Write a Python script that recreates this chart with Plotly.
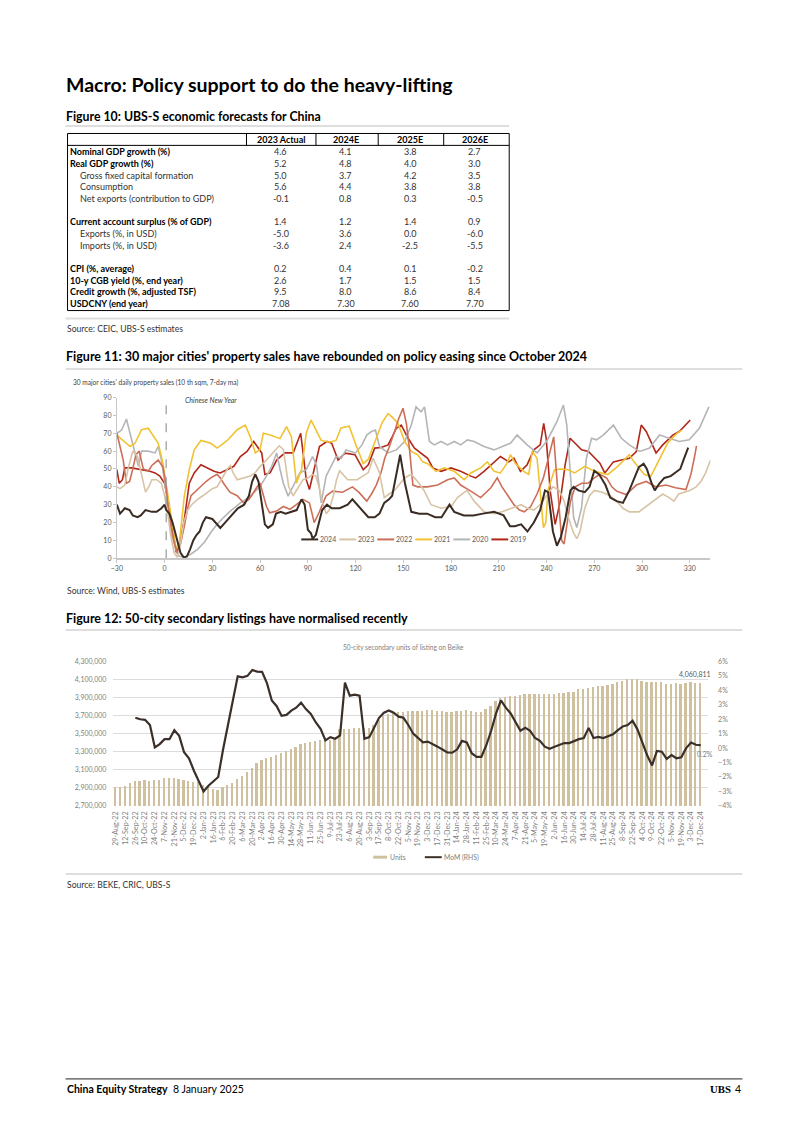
import plotly.graph_objects as go

# ======================= DATA =======================
# ---- Figure 10 table ----
table_header = ["2023 Actual", "2024E", "2025E", "2026E"]
table_labels = ["Nominal GDP growth (%)", "Real GDP growth (%)", "Gross fixed capital formation",
                "Consumption", "Net exports (contribution to GDP)", "",
                "Current account surplus (% of GDP)", "Exports (%, in USD)", "Imports (%, in USD)", "",
                "CPI (%, average)", "10-y CGB yield (%, end year)", "Credit growth (%, adjusted TSF)",
                "USDCNY (end year)"]
table_bold = [True, True, False, False, False, False, True, False, False, False, True, True, True, True]
col_2023 = ["4.6", "5.2", "5.0", "5.6", "-0.1", "", "1.4", "-5.0", "-3.6", "", "0.2", "2.6", "9.5", "7.08"]
col_2024 = ["4.1", "4.8", "3.7", "4.4", "0.8", "", "1.2", "3.6", "2.4", "", "0.4", "1.7", "8.0", "7.30"]
col_2025 = ["3.8", "4.0", "4.2", "3.8", "0.3", "", "1.4", "0.0", "-2.5", "", "0.1", "1.5", "8.6", "7.60"]
col_2026 = ["2.7", "3.0", "3.5", "3.8", "-0.5", "", "0.9", "-6.0", "-5.5", "", "-0.2", "1.5", "8.4", "7.70"]

# ---- Figure 11: 30 cities daily property sales (days relative to CNY) ----
cny_day = 1
days_2024 = [-30,-28,-25,-22,-20,-17,-15,-12,-8,-5,-2,0,1,3,5,7,8,10,12,14,16,18,20,22,24,26,30,32,35,38,42,46,50,53,55,57,59,61,63,65,68,70,73,76,80,83,86,88,90,92,93,95,97,99,102,105,110,115,118,121,125,128,132,135,138,141,143,145,148,151,155,160,165,170,174,179,182,188,194,200,207,213,217,220,224,228,232,236,239,241,244,246.5,249,252,255,257,260,264,267,270,273,277,280,284,288,292,295,298,301,303,306,308,311,314,318,321,324,326,328,329]
sales_2024 = [30,25,28,27,24,23,24,27,26,26,28,30,27,25,20,13,10,3,0.5,1,5,10,13,15,20,23,22,20,17,20,24,28,30,35,43,47,43,30,19,17,19,25,26,25,26,27,33,30,16,14,11,13,20,27,30,28,28,30,33,30,26,23,23,25,31,33,35,45,58,42,26,25,25,23,23,30,26,24,24,25,26,24,18,18,19,15,20,27,38,37,15,7,12,23,38,40,38,37,40,49,47,41,34,32,31,38,45,51,53,50,42,38,42,45,46,48,50,55,60,62]

days_2023 = [-30,-28,-25,-23,-20,-17,-14,-12,-10,-8,-5,-2,0,2,4,6,8,10,12,14.5,17,20.7,24,27,30,33,36,39.4,41.4,43,45.6,50,53.8,57,60,64,67,70.4,72,74.6,76.6,78,80.8,84,87,90,93,95,97,99,101.5,103.5,106,108,110,115,121,128,131,135,138,141,144.5,150.8,155,159,163,167.4,173.7,180,184,190,194.5,200.7,207,212,218,224,228,232,236,240,244,248,251,254,257,259,261,264,267,270,275,280,284,288,292,298,304,309,313,317,320,323,327,330,334,337,340,343]
sales_2023 = [40,39,41,50,60,57,45,37,40,44,44,42,35,25,12,3,0.5,8,20,27,30,33,35,37,39,40,45,50,52,48,44,45,46,48,51.5,55,58,62,63,61,48,40,35,40,44,45,47,46,40,32,25,27,35,44,49,44,44,48,56,48,34,36,38,45,47,43,38,30,28,29,34,38,32,26,25,26,28,30,28,27,30,35,40,38,32,22,14,11,15,28,35,38,37,35,32,28,26,26,30,33,36,34,32,36,37,38,40,43,48,55]

days_2022 = [-30,-28,-26,-24,-22,-20,-18,-16,-13.4,-10,-8,-4,-1,1,2,4,6,8,10,12.4,14.5,16.6,20,22.8,26,29,33,35,37,41,45.6,49.7,53,56,58,60,62,64,66,70.4,74.6,78.7,82.8,87,91,94,97,101.5,105.6,111.8,118,122,127,130,133,136,138.3,141,144.5,147,149.8,152,154,156,159,165,171.6,177.8,182,186,192.4,198.6,205,209,212,215,219.5,223,226,230,234,238,241,243,244.5,246,248,249.5,251,253,255,258,262,266,270,273.5,277.7,281,284,290,296.4,302.6,308.8,315,321,327.6,330.7,332.8,334.2]
sales_2022 = [70,62,55,42,43,50,58,60,50,49,52,55,51,40,29,18,9,3,8,18,28,35,38,40,43,45,47,45,42,37,35,31,33,37,40,42,35,29,25.5,26.5,29,27.4,30,33,31,20,25.5,35,37.6,37,40,37,32,36,41,48,56,62,71,78,84,75,60,41,40,40,41,44,45,41,37.6,34,39.5,45,40,35.7,30,27,26,29,36,45,55,62,68,50,25,10,8,20,32,40,42,42,45,47,45,40,37.6,35.7,41,43,40,41,39.5,38.5,47,56,63]

days_2021 = [-30,-26,-21.7,-18.6,-14.5,-10.3,-7,-4,-1,2,5,7.3,9.3,12.4,15.5,18.6,22.8,29,33,39.4,45.6,50.7,53.8,57,60,62,66.3,72.5,76.6,79.7,82.8,86,89,92,95,98.4,103.5,107.7,110.8,116,120,124.8,128,132.5,136.7,140.4,143,146.6,150.8,155,159,162.2,165.3,170.5,175.7,182,188.2,192.4,198.6,202.8,207,211,215,217.3,220.5,225.7,228.8,231,234,236,238,239.5,241,245,249,253.5,257.7,264,270,278.5,284.7,292,295,301.4,305.5,309.7,316,322,325]
sales_2021 = [69,66,62.6,64.4,72,72.8,68,64.4,53,35,16,5,9,35,49.6,60.7,66,64.4,61.7,66,72,74.6,68,59,61,70,69,67,73.7,68,42,49.6,70,77.4,72,66,65,66,73,74,64,53,55.5,66,76,81,79,75.6,65.4,59.8,58,54,53,48.7,50.6,48.7,44,47.8,50.6,54,48.7,47.8,53,58,53,48.7,47,60,56,37.6,17.2,20,38.5,49.6,50,49.6,47.8,51.5,48.7,46.9,51.5,58,54,46.9,45.9,53.3,64.4,70,71.8]

days_2020 = [-30,-27,-24,-21.7,-18.6,-16.5,-14.5,-10.3,-6,-4,-2,1,4,8.3,12.4,16.6,20.7,25,29,33,37,41.4,47.6,54,60,64,67.3,70.4,72.5,74.6,77.6,80.8,85,89,93,95.5,98.4,101.5,107.7,111,114,120,124,127,130,132.5,135,140.4,145.6,150.8,155,158,161.2,163.3,166.4,169.5,173.7,177.8,182,186,190.3,194.5,200.7,207,213,217.3,221.5,227.8,234,240,246.5,250.6,252.7,254.8,257,259,262,265,268.3,271.4,275.6,282,287,292,298.5,304.7,311,317,323.4,329.6,336,342]
sales_2020 = [70,71.8,78,70,59,51.5,60,60,59,62.6,55,36.7,14.4,1.5,0.5,2.4,5,9,14.4,19,22.8,26.5,31,34.8,40.4,46,51.5,59,50,42,34.8,40.4,47.8,49.6,57,52,31,46,57,56,60.7,59,63.5,69,71,71.8,62.6,59,60.7,65.4,74.6,84.8,82,84.8,65.4,63.5,65.4,63.5,65.4,63.5,66.3,65.4,62.6,60.7,62.6,64.4,69,63.5,59,65.4,76.5,85.8,74.6,46.9,22.8,17.2,28.3,56,67.2,66.3,69,74.6,67.2,63.5,59.8,61.7,69,67.2,65.4,66.3,72.8,84.8]

days_2019 = [-30,-28.5,-26.5,-25,-20.7,-14.5,-9.3,-6,-3,0,2,5,7.3,9.3,12.4,15.5,18.6,22.8,27,31,35,39.4,43.5,47.6,51.8,56,58,61,63,66.3,70.4,75.6,80.8,84,85.5,87,89,91,94,97.3,102,105,109,113.4,119.6,124.8,128,132,136,140.4,143,145.6,148.7,153,157,161,165.3,168.5,173.7,180,186,192.4,195.5,200.7,207,211,216.3,219.5,223.6,227.8,232,236,238.2,239.8,242.3,245.4,248.6,251.7,254.8,258,262,266.3,269.4,273.5,276.6,282,287,292,296.4,299.5,302.6,305.7,308.8,313,319.3,323.4,327.6,330.3]
sales_2019 = [49.6,42,44,50.6,50.6,49.6,48.7,47.8,46,42,33,16.3,3.3,7,21.8,42,47.8,52.4,50.6,48.7,47.8,49.6,51.5,57,59.8,65.4,62.6,59,46.9,47.8,55,59,59,66.3,70,59,44,38.5,49.6,62.6,65.4,64.4,55,58.9,58,49.6,52.4,61.7,62,63.5,68,72.8,74.6,67.2,61.7,58.9,56,50.6,48.7,50.6,48.7,46,45,48.7,54,57,54,56,48.7,52.4,60.7,63.5,75.5,67,37.6,19,32,52.4,67.2,64.4,60.7,59.8,57,53.3,47.8,54,55,56,59.8,74.6,71,65.4,59,63.5,69,71,74.6,77.4]

series_names = ["2024", "2023", "2022", "2021", "2020", "2019"]
series_days = [days_2024, days_2023, days_2022, days_2021, days_2020, days_2019]
series_vals = [sales_2024, sales_2023, sales_2022, sales_2021, sales_2020, sales_2019]
series_colors = ["#3a2b23", "#d8c3a5", "#cd6f58", "#f1c232", "#b5b5b7", "#b1281b"]
x_ticks_11 = [-30, 0, 30, 60, 90, 120, 150, 180, 210, 240, 270, 300, 330]

# ---- Figure 12: Beike 50-city secondary listings ----
week_labels = ["29-Aug-22", "12-Sep-22", "26-Sep-22", "10-Oct-22", "24-Oct-22", "7-Nov-22", "21-Nov-22",
               "5-Dec-22", "19-Dec-22", "2-Jan-23", "16-Jan-23", "6-Feb-23", "20-Feb-23", "6-Mar-23",
               "20-Mar-23", "2-Apr-23", "16-Apr-23", "30-Apr-23", "14-May-23", "28-May-23", "11-Jun-23",
               "25-Jun-23", "9-Jul-23", "23-Jul-23", "6-Aug-23", "20-Aug-23", "3-Sep-23", "17-Sep-23",
               "8-Oct-23", "22-Oct-23", "5-Nov-23", "19-Nov-23", "3-Dec-23", "17-Dec-23", "31-Dec-23",
               "14-Jan-24", "28-Jan-24", "11-Feb-24", "25-Feb-24", "10-Mar-24", "24-Mar-24", "7-Apr-24",
               "21-Apr-24", "5-May-24", "19-May-24", "2-Jun-24", "16-Jun-24", "30-Jun-24", "14-Jul-24",
               "28-Jul-24", "11-Aug-24", "25-Aug-24", "8-Sep-24", "22-Sep-24", "4-Oct-24", "9-Oct-24",
               "22-Oct-24", "5-Nov-24", "19-Nov-24", "3-Dec-24", "17-Dec-24"]
units = [2908000, 2908000, 2919000, 2945000, 2970000, 2974000, 2978000, 2974000, 2978000, 2982000,
         3000000, 3007000, 3007000, 2993000, 2978000, 2974000, 2963000, 2956000, 2930000, 2910000,
         2880000, 2870000, 2900000, 2930000, 2950000, 2990000, 3030000, 3070000, 3120000, 3170000,
         3200000, 3227000, 3238000, 3256000, 3286000, 3300000, 3322000, 3348000, 3385000, 3396000,
         3403000, 3414000, 3420000, 3425000, 3430000, 3435000, 3549000, 3549000, 3550000, 3555000,
         3557000, 3557000, 3560000, 3593000, 3650000, 3690000, 3714000, 3733000, 3740000, 3740000,
         3745000, 3751000, 3751000, 3751000, 3758000, 3758000, 3751000, 3751000, 3740000, 3740000,
         3751000, 3751000, 3758000, 3751000, 3740000, 3733000, 3769000, 3806000, 3861000, 3886000,
         3897000, 3908000, 3916000, 3927000, 3934000, 3934000, 3934000, 3934000, 3934000, 3934000,
         3937000, 3941000, 3945000, 3952000, 3960000, 3989000, 3993000, 4000000, 4007000, 4018000,
         4026000, 4033000, 4044000, 4070000, 4080000, 4099000, 4106000, 4099000, 4080000, 4070000,
         4062000, 4070000, 4062000, 4044000, 4044000, 4051000, 4044000, 4055000, 4062000, 4055000,
         4060811]
mom_start = 4
mom = [2.1, 2.0, 1.96, 1.6, 0.05, 0.28, 0.62, 0.62, 1.24, 0.85,
       -0.29, -0.7, -1.55, -2.3, -3.0, -2.6, -2.3, -2.0, -0.1, 1.6,
       3.3, 4.97, 4.9, 5.0, 5.4, 5.3, 5.28, 4.5, 3.3, 2.9,
       2.24, 2.3, 2.6, 2.8, 3.15, 2.7, 2.36, 1.79, 1.33, 0.53,
       0.76, 0.65, 0.88, 4.54, 3.63, 3.7, 3.63, 0.65, 0.76, 1.45,
       2.1, 2.45, 2.61, 2.45, 2.18, 2.1, 1.6, 1.0, 0.7, 0.4,
       0.45, 0.3, 0.1, -0.1, -0.3, -0.32, -0.1, 0.5, 0.4, -0.35,
       -0.6, -0.6, 0.2, 1.2, 2.4, 3.3, 2.8, 2.4, 1.8, 1.2,
       1.4, 1.2, 0.7, 0.5, 0.1, -0.05, 0.1, 0.22, 0.35, 0.35,
       0.5, 0.62, 0.7, 1.4, 0.7, 0.78, 0.7, 0.8, 0.95, 1.25,
       1.5, 1.6, 1.9, 1.3, 0.4, -0.5, -1.2, -0.2, -0.25, -0.75,
       -0.48, -0.7, -0.63, 0.0, 0.39, 0.23, 0.2]

# ======================= LAYOUT HELPERS =======================
W, H = 802, 1134
FONT = "Lato"
ann, shapes = [], []


def X(px):
    return px / W


def Y(py):
    return 1 - py / H


def text(x, y, s, size, color="#000000", bold=False, italic=False, anchor="left", family=FONT,
         yanchor="middle"):
    if bold:
        s = "<b>" + s + "</b>"
    if italic:
        s = "<i>" + s + "</i>"
    ann.append(dict(x=X(x), y=Y(y), xref="paper", yref="paper", text=s, showarrow=False,
                    xanchor=anchor, yanchor=yanchor, borderpad=0,
                    font=dict(size=size, color=color, family=family)))


def line(x0, y0, x1, y1, color, width, dash=None):
    d = dict(color=color, width=width)
    if dash:
        d["dash"] = dash
    shapes.append(dict(type="line", xref="paper", yref="paper", x0=X(x0), y0=Y(y0),
                       x1=X(x1), y1=Y(y1), line=d, layer="above"))


SEP = "#dedede"

# ---- page titles ----
text(59, 80, "Macro: Policy support to do the heavy-lifting", 19.5, bold=True)
text(59, 112, "Figure 10: UBS-S economic forecasts for China", 12.3, bold=True)
line(60, 122, 507, 122, SEP, 2)

# ---- table ----
t_left, t_right, t_top, t_bottom, t_head = 62, 507, 129.5, 308, 141.5
shapes.append(dict(type="rect", xref="paper", yref="paper", x0=X(t_left), x1=X(t_right),
                   y0=Y(t_bottom), y1=Y(t_top), line=dict(color="#000000", width=1)))
line(t_left, t_head, t_right, t_head, "#000000", 1)
col_edges = [242.3, 312.3, 375, 441]
for ce in col_edges:
    line(ce, t_top, ce, t_head, "#000000", 1)
col_centers = [277, 342.5, 407.5, 472.5]
for cc, h in zip(col_centers, table_header):
    text(cc, 136, h, 9, bold=True, anchor="center")
row_y0, row_step = 148, 11.77
for i, lab in enumerate(table_labels):
    yy = row_y0 + i * row_step
    if lab:
        if table_bold[i]:
            text(63.5, yy, lab, 9, color="#000000", bold=True)
        else:
            text(73.5, yy, lab, 9, color="#333333")
    for cc, col in zip(col_centers, [col_2023, col_2024, col_2025, col_2026]):
        if col[i]:
            text(cc, yy, col[i], 9, color="#333333", anchor="center")
line(60, 316, 507, 316, SEP, 2)
text(60, 327, "Source: CEIC, UBS-S estimates", 8.6, color="#333333")

# ---- Figure 11 header ----
text(59, 354, "Figure 11: 30 major cities' property sales have rebounded on policy easing since October 2024",
     12.5, bold=True)
line(60, 367, 742, 367, SEP, 2)
text(67, 380.5, "30 major cities' daily property sales (10 th sqm, 7-day ma)", 6.6, color="#404040")
text(60, 591, "Source: Wind, UBS-S estimates", 8.6, color="#333333")

# legend fig 11
for i, (nm, colr) in enumerate(zip(series_names, series_colors)):
    sx = 297.5 + 38.3 * i
    line(sx, 538.7, sx + 17, 538.7, colr, 2)
    text(sx + 18, 538.7, nm, 7, color="#595959")

# ---- Figure 12 header ----
text(59, 618, "Figure 12: 50-city secondary listings have normalised recently", 12.5, bold=True)
line(60, 630, 742, 630, SEP, 2)
text(400.5, 647, "50-city secondary units of listing on Beike", 6.6, color="#808080", anchor="center")
# legend fig 12
shapes.append(dict(type="rect", xref="paper", yref="paper", x0=X(370), x1=X(384), y0=Y(860.5),
                   y1=Y(857.5), line=dict(width=0), fillcolor="#cfc1a0"))
text(385.5, 859, "Units", 6.8, color="#808080")
line(422, 859, 439, 859, "#3b2f2a", 2)
text(440, 859, "MoM (RHS)", 6.8, color="#808080")
line(60, 876, 742, 876, SEP, 2)
text(60, 887, "Source: BEKE, CRIC, UBS-S", 8.6, color="#333333")

# ---- footer ----
line(60, 1082.5, 742, 1082.5, "#222222", 1)
text(60, 1093, "<b>China Equity Strategy</b>  8 January 2025", 10.5, color="#000000")
text(742, 1093, "4", 10.5, color="#000000", anchor="right")
text(731, 1093, "<b>UBS</b>", 10.8, color="#000000", anchor="right", family="Liberation Serif")

# ======================= FIGURE =======================
fig = go.Figure()

# Figure 11 lines (draw 2019 first, 2024 on top)
for nm, dd, vv, colr in reversed(list(zip(series_names, series_days, series_vals, series_colors))):
    fig.add_trace(go.Scatter(x=dd, y=vv, mode="lines", name=nm, xaxis="x", yaxis="y",
                             line=dict(color=colr, width=2 if nm == "2024" else 1.6),
                             showlegend=False, hoverinfo="skip"))

# CNY dashed marker
shapes.append(dict(type="line", xref="x", yref="y", x0=cny_day, x1=cny_day, y0=0, y1=90,
                   line=dict(color="#a0a0a0", width=1.3, dash="dash")))
ann.append(dict(x=11.5, y=88.5, xref="x", yref="y", text="<i>Chinese New Year</i>", showarrow=False,
                xanchor="left", yanchor="middle", font=dict(size=7, color="#404040", family=FONT)))

# Figure 12 bars + line
bar_x = list(range(len(units)))
fig.add_trace(go.Bar(x=bar_x, y=units, xaxis="x2", yaxis="y2", width=0.38,
                     marker=dict(color="#cfc1a0", line=dict(width=0)), showlegend=False,
                     hoverinfo="skip"))
mom_x = list(range(mom_start, mom_start + len(mom)))
fig.add_trace(go.Scatter(x=mom_x, y=mom, xaxis="x2", yaxis="y3", mode="lines",
                         line=dict(color="#3b2f2a", width=2.2), showlegend=False, hoverinfo="skip"))

ann.append(dict(x=bar_x[-1], y=units[-1], xref="x2", yref="y2", text=f"{units[-1]:,.0f}",
                showarrow=False, xanchor="center", yanchor="bottom", xshift=-6, yshift=2,
                font=dict(size=7, color="#595959", family=FONT)))
ann.append(dict(x=mom_x[-1], y=mom[-1], xref="x2", yref="y3", text=f"{mom[-1]:.1f}%",
                showarrow=False, xanchor="center", yanchor="top", xshift=4, yshift=-3,
                font=dict(size=7, color="#808080", family=FONT)))

axis_font = dict(size=7, color="#595959", family=FONT)
fig.update_layout(
    width=W, height=H, autosize=False, margin=dict(l=0, r=0, t=0, b=0),
    paper_bgcolor="white", plot_bgcolor="rgba(0,0,0,0)", showlegend=False,
    bargap=0,
    xaxis=dict(domain=[X(111.7), X(709.8)], range=[-30, 343], anchor="y", tickvals=x_ticks_11,
               showline=True, linecolor="#c8c8c8", linewidth=1.5, ticks="outside", ticklen=3,
               tickcolor="#c8c8c8", showgrid=False, zeroline=False, tickfont=axis_font),
    yaxis=dict(domain=[Y(557.7), Y(395.7)], range=[0, 90], dtick=10, anchor="x",
               showline=True, linecolor="#c8c8c8", linewidth=1, ticks="outside", ticklen=3,
               tickcolor="#c8c8c8", showgrid=False, zeroline=False, tickfont=axis_font),
    xaxis2=dict(domain=[X(108.2), X(707.4)], range=[-0.5, 121.5], anchor="y2",
                tickmode="array", tickvals=list(range(0, len(units), 2)), ticktext=week_labels,
                tickangle=-90, tickfont=dict(size=7.2, color="#7f7f7f", family=FONT),
                showgrid=False, zeroline=False, showline=False, ticks="", ticklabelstandoff=3),
    yaxis2=dict(domain=[Y(807.3), Y(661.7)], range=[2700000, 4300000], tick0=2700000, dtick=200000,
                tickformat=",d", anchor="x2", showgrid=True, gridcolor="#dcdcdc", gridwidth=1,
                zeroline=False, showline=False, ticks="", ticklabelstandoff=6,
                tickfont=dict(size=7, color="#7f7f7f", family=FONT)),
    yaxis3=dict(overlaying="y2", side="right", anchor="x2", range=[-4, 6], dtick=1, ticksuffix="%",
                showgrid=False, zeroline=False, showline=False, ticks="", ticklabelstandoff=9,
                tickfont=dict(size=7, color="#7f7f7f", family=FONT)),
    annotations=ann, shapes=shapes,
)

fig.write_html("out.html", config={"displayModeBar": False},
               post_script="document.body.style.margin='0px';document.body.style.overflow='hidden';")
